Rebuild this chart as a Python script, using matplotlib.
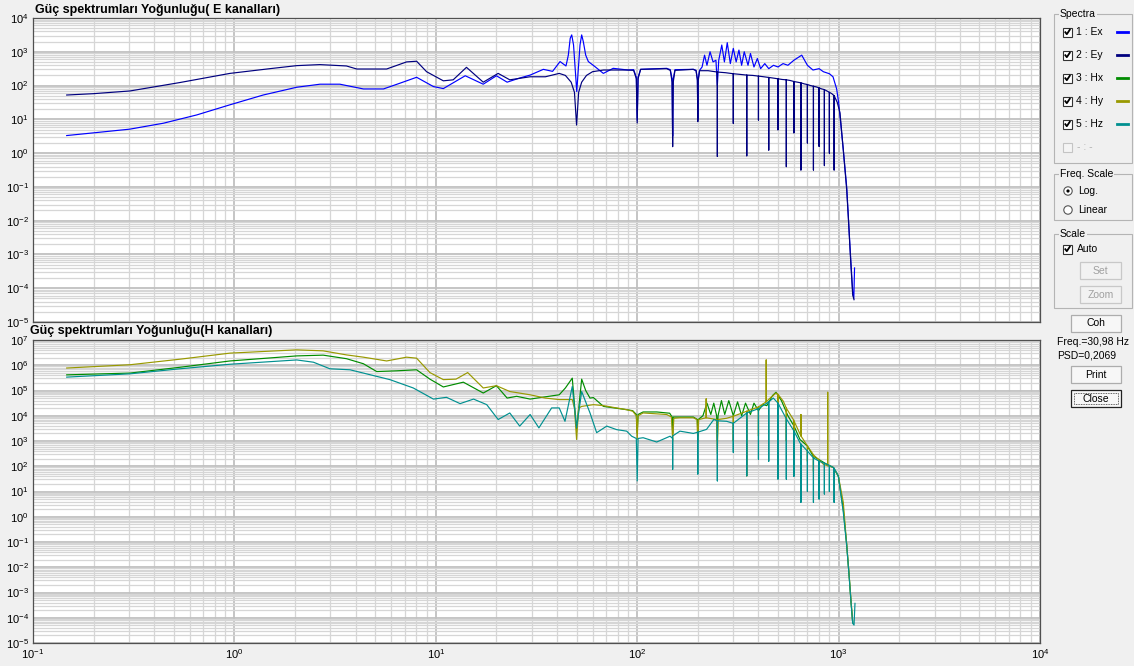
import numpy as np
import matplotlib
matplotlib.use("Agg")
import matplotlib.pyplot as plt
from matplotlib.patches import Rectangle, Circle
from matplotlib.ticker import FixedLocator, LogLocator, NullFormatter

plt.rcParams['font.family'] = ['Liberation Sans', 'DejaVu Sans']
plt.rcParams['mathtext.fontset'] = 'custom'
plt.rcParams['mathtext.rm'] = 'Liberation Sans'
plt.rcParams['mathtext.it'] = 'Liberation Sans'

# (frequency Hz, log10 PSD)
# E channels
ex_pts = [(0.147, 0.52), (0.2, 0.60), (0.303, 0.71), (0.444, 0.885), (0.65, 1.13), (0.95, 1.43),
          (1.39, 1.72), (2.04, 1.95), (2.66, 2.04), (3.34, 2.04), (4.37, 1.90), (5.5, 1.90),
          (6.64, 2.07), (8.03, 2.245), (9.73, 1.97), (10.9, 1.91), (14.0, 2.29), (17.2, 2.04),
          (20.0, 2.29), (22.6, 2.10), (26, 2.22), (29.4, 2.31), (34.2, 2.48), (38, 2.42),
          (41.4, 2.71), (44.3, 2.58), (45.5, 2.9), (46.5, 3.4), (47.3, 3.5), (48.3, 3.2),
          (50.1, 1.82), (52, 3.2), (53, 3.5), (54, 3.3), (55.5, 2.9), (57.2, 2.71), (61.7, 2.56),
          (67.9, 2.36), (76, 2.51), (90, 2.46),
          (96, 2.47), (99, 2.25), (100, 0.98), (101, 2.25), (104, 2.48),
          (140, 2.51), (146, 2.47), (149, 2.2), (150, 0.5), (151, 2.2), (154, 2.47),
          (190, 2.48), (196, 2.45), (199, 2.2), (200, 1.0), (201, 2.2), (204, 2.45),
          (210, 2.55), (216, 2.9), (222, 2.6), (230, 3.0), (238, 2.7), (246, 2.75), (250, 2.0),
          (254, 2.75), (263, 3.2), (271, 2.7), (280, 3.27), (290, 2.65), (300, 3.1), (310, 2.7),
          (320, 3.05), (330, 2.6), (340, 3.0), (355, 2.6), (365, 2.95), (380, 2.55), (395, 2.8),
          (410, 2.5), (430, 2.65), (450, 2.5), (475, 2.6), (500, 2.55), (530, 2.65), (560, 2.6),
          (600, 2.75), (656, 2.9), (700, 2.6), (746, 2.46), (800, 2.5), (840, 2.41), (900, 2.35),
          (938, 2.26), (978, 1.9), (1000, 1.5), (1016, 1.1), (1055, 0.1), (1097, -1.0),
          (1140, -2.8), (1175, -4.1), (1190, -4.3), (1200, -3.4)]

ey_pts = [(0.147, 1.72), (0.2, 1.76), (0.303, 1.84), (0.537, 2.09), (0.95, 2.36), (1.5, 2.50),
          (2.04, 2.59), (2.66, 2.62), (3.6, 2.58), (4.05, 2.49), (5.7, 2.49), (7.16, 2.70),
          (8.03, 2.72), (9.0, 2.41), (10.9, 2.14), (12.2, 2.17), (14.2, 2.54), (17.2, 2.10),
          (20.4, 2.36), (23.3, 2.17), (29.4, 2.26), (35, 2.26), (41, 2.36), (44, 2.3), (47, 2.1),
          (48.8, 1.8), (50, 0.83), (51.2, 1.8), (53, 2.1), (56, 2.3), (60, 2.41), (68, 2.46),
          (90, 2.46),
          (96, 2.45), (99, 2.20), (100, 0.89), (101, 2.20), (104, 2.48),
          (140, 2.50), (146, 2.45), (149, 2.10), (150, 0.19), (151, 2.10), (154, 2.45),
          (190, 2.48), (196, 2.44), (199, 2.15), (200, 0.93), (201, 2.15), (204, 2.44),
          (225, 2.44), (250, 2.40), (250, -0.10), (250, 2.40),
          (275, 2.38), (300, 2.35), (300, 0.88), (300, 2.35),
          (325, 2.33), (350, 2.31), (350, -0.08), (350, 2.31),
          (375, 2.30), (400, 2.28), (400, 0.98), (400, 2.28),
          (425, 2.26), (450, 2.24), (450, 0.09), (450, 2.24),
          (475, 2.22), (500, 2.20), (500, 0.69), (500, 2.20),
          (525, 2.18), (550, 2.17), (550, -0.40), (550, 2.17),
          (575, 2.15), (600, 2.12), (600, 0.60), (600, 2.12),
          (625, 2.10), (650, 2.08), (650, -0.50), (650, 2.08),
          (675, 2.05), (700, 2.03), (700, 0.30), (700, 2.03),
          (725, 2.00), (750, 1.98), (750, -0.50), (750, 1.98),
          (775, 1.96), (800, 1.93), (800, 0.20), (800, 1.93),
          (825, 1.90), (850, 1.88), (850, -0.37), (850, 1.88),
          (875, 1.84), (900, 1.80), (900, 0.00), (900, 1.80),
          (925, 1.76), (950, 1.70), (950, -0.50), (950, 1.70),
          (985, 1.50), (1016, 1.19), (1055, 0.10), (1097, -1.09), (1117, -1.88),
          (1140, -2.86), (1152, -3.36), (1175, -4.20), (1193, -4.34)]

# H channels
hx_pts = [(0.147, 5.62), (0.303, 5.69), (0.537, 5.92), (0.95, 6.17), (2.04, 6.37), (2.76, 6.40),
          (3.6, 6.26), (4.37, 6.06), (5.09, 5.75), (6.4, 5.78), (8.03, 5.82), (9.35, 5.45),
          (10.9, 5.14), (13.7, 5.33), (17.2, 4.90), (20, 5.19), (22.6, 4.70), (25.2, 4.77),
          (29.4, 4.66), (35, 4.75), (41, 4.83), (44, 5.1), (47.6, 5.49), (50, 3.46), (53, 5.45),
          (55.5, 5.0), (58.3, 4.70), (60.6, 4.72), (68, 4.37), (88.7, 4.24), (95, 4.20),
          (99, 4.05), (100, 3.3), (101, 4.05), (107, 4.15), (125, 4.15), (145, 4.10),
          (149, 3.95), (150, 3.3), (151, 3.95), (163, 3.95), (190, 3.95), (199, 3.85), (200, 3.2),
          (201, 3.85), (212, 4.0), (222, 4.5), (232, 4.05), (240, 4.5), (248, 4.0), (250, 3.0),
          (252, 4.0), (262, 4.6), (272, 4.05), (285, 4.6), (300, 4.0), (315, 4.55), (330, 4.0),
          (345, 4.5), (365, 4.05), (380, 4.5), (400, 4.2), (420, 4.45), (440, 4.4), (470, 4.8),
          (489, 4.93), (520, 4.6), (560, 4.0), (600, 3.6), (643, 3.06), (700, 2.8), (748, 2.4),
          (873, 2.08), (942, 1.95), (997, 1.6), (1055, 0.3), (1097, -1.1), (1130, -2.4),
          (1152, -3.35), (1175, -4.2)]

hy_pts = [(0.147, 5.89), (0.303, 6.02), (0.537, 6.24), (0.95, 6.48), (2.04, 6.61), (2.76, 6.57),
          (3.6, 6.41), (4.37, 6.32), (5.7, 6.17), (7.16, 6.32), (8.03, 6.28), (9.35, 5.71),
          (10.9, 5.43), (12.6, 5.45), (14.4, 5.71), (17.2, 5.10), (20, 5.19), (23.3, 4.96),
          (29.4, 4.83), (35, 4.70), (41, 4.64), (47.6, 4.64), (48.8, 4.3), (50, 3.06), (51.2, 4.3),
          (53, 4.37), (60.6, 4.44), (68, 4.40), (88.7, 4.24), (95, 4.18), (99, 4.0), (100, 3.06),
          (101, 4.0), (107, 4.11), (140, 4.05), (148, 3.95), (150, 2.99), (152, 3.9), (163, 3.92),
          (190, 3.92), (198, 3.85), (200, 2.95), (202, 3.85), (220, 3.92), (220, 4.67), (220, 3.92),
          (248, 3.85), (250, 2.5), (252, 3.85), (278, 3.90), (300, 3.98), (300, 3.0), (300, 3.98),
          (350, 4.18), (350, 1.62), (350, 4.18), (400, 4.35), (400, 3.2), (400, 4.35),
          (437, 4.55), (437, 6.21), (437, 4.55), (457, 4.70), (489, 4.90), (500, 4.85), (500, 3.3),
          (500, 4.85), (532, 4.57), (550, 4.3), (550, 3.0), (550, 4.3), (596, 3.85), (600, 3.8),
          (600, 2.8), (600, 3.8), (650, 3.2), (650, 4.05), (650, 3.2), (668, 3.06), (700, 2.8),
          (700, 2.2), (700, 2.8), (748, 2.47), (750, 2.45), (750, 1.8), (750, 2.45), (800, 2.25),
          (840, 2.08), (883, 2.02), (883, 4.93), (883, 2.02), (942, 1.95), (997, 1.62),
          (1055, 0.57), (1097, -1.1), (1130, -2.4), (1152, -3.3), (1175, -4.15)]

hz_pts = [(0.147, 5.53), (0.303, 5.66), (0.537, 5.86), (0.95, 6.04), (2.04, 6.21), (2.47, 6.12),
          (2.98, 5.86), (3.75, 5.82), (4.37, 5.69), (5.92, 5.43), (7.73, 5.10), (9.73, 4.66),
          (11.3, 4.73), (13.2, 4.48), (15.4, 4.66), (17.9, 4.44), (20.4, 3.85), (23.3, 4.11),
          (26.1, 3.59), (29.4, 4.05), (32.5, 3.52), (37.6, 4.31), (41, 4.31), (43.8, 3.78),
          (47.6, 5.16), (50, 3.52), (53, 4.96), (58.3, 4.11), (62.9, 3.33), (70.6, 3.59),
          (79.1, 3.45), (88.7, 3.39), (93.9, 3.19), (99, 3.1), (100, 1.42), (101, 3.1),
          (107, 3.13), (125, 2.96), (145.6, 3.19), (150, 3.1), (150, 1.88), (150, 3.2),
          (163, 3.39), (190, 3.3), (200, 3.35), (200, 1.69), (200, 3.35), (221, 3.46),
          (240, 3.85), (250, 3.8), (250, 1.42), (250, 3.8), (278, 3.78), (300, 3.7), (300, 2.55),
          (300, 3.7), (350, 4.11), (350, 1.62), (350, 4.11), (400, 4.28), (400, 2.28), (400, 4.28),
          (450, 4.55), (450, 2.2), (450, 4.55), (474, 4.70), (500, 4.5), (500, 1.49), (500, 4.5),
          (550, 3.88), (550, 1.49), (550, 3.88), (600, 3.4), (600, 1.6), (600, 3.4), (643, 2.93),
          (650, 2.88), (650, 0.57), (650, 2.88), (700, 2.6), (700, 1.0), (700, 2.6), (748, 2.34),
          (750, 2.33), (750, 0.57), (750, 2.33), (800, 2.2), (800, 0.7), (800, 2.2), (850, 2.12),
          (850, 0.9), (850, 2.12), (873, 2.08), (900, 2.03), (900, 1.0), (900, 2.03), (942, 1.95),
          (950, 1.92), (950, 0.57), (950, 1.92), (997, 1.62), (1055, 0.18), (1097, -1.14),
          (1130, -2.45), (1152, -3.37), (1175, -4.22), (1193, -4.29), (1206, -3.43)]

spectra_labels = ["1 : Ex", "2 : Ey", "3 : Hx", "4 : Hy", "5 : Hz"]
spectra_colors = ["#0000ff", "#00007f", "#008c00", "#999900", "#009090"]

title_e = "Güç spektrumları Yoğunluğu( E kanalları)"
title_h = "Güç spektrumları Yoğunluğu(H kanalları)"

W, H = 1134, 666
fig = plt.figure(figsize=(W / 100, H / 100), dpi=100, facecolor="#f0f0f0")


def px_axes(x0, y0, x1, y1):
    return fig.add_axes([x0 / W, 1 - y1 / H, (x1 - x0) / W, (y1 - y0) / H])


def setup(ax, lo, hi, show_x):
    ax.set_xscale("log")
    ax.set_yscale("log")
    ax.set_xlim(0.1, 1e4)
    ax.set_ylim(10.0 ** lo, 10.0 ** hi)
    ax.set_facecolor("white")
    ax.yaxis.set_major_locator(FixedLocator([10.0 ** k for k in range(lo, hi + 1)]))
    ax.yaxis.set_minor_locator(LogLocator(base=10, subs=np.arange(2, 10), numticks=60))
    ax.yaxis.set_minor_formatter(NullFormatter())
    ax.xaxis.set_major_locator(FixedLocator([10.0 ** k for k in range(-1, 5)]))
    ax.xaxis.set_minor_locator(LogLocator(base=10, subs=np.arange(2, 10), numticks=60))
    ax.xaxis.set_minor_formatter(NullFormatter())
    ax.grid(which="major", color="#c0c0c0", lw=1.3)
    ax.grid(which="minor", color="#d6d6d6", lw=0.9)
    ax.set_axisbelow(True)
    ax.tick_params(which="both", length=0, labelsize=8, pad=3)
    if not show_x:
        ax.tick_params(axis="x", labelbottom=False)
    for s in ax.spines.values():
        s.set_color("#505050")
        s.set_linewidth(0.9)


def draw(ax, pts, color):
    f, lg = np.array(pts).T
    ax.plot(f, 10.0 ** lg, color=color, lw=0.85)


ax_e = px_axes(33, 18, 1040, 322)
setup(ax_e, -5, 4, False)
draw(ax_e, ex_pts, spectra_colors[0])
draw(ax_e, ey_pts, spectra_colors[1])

ax_h = px_axes(33, 340, 1040, 643)
setup(ax_h, -5, 7, True)
draw(ax_h, hx_pts, spectra_colors[2])
draw(ax_h, hy_pts, spectra_colors[3])
draw(ax_h, hz_pts, spectra_colors[4])

# overlay in pixel coordinates for titles and the control panel
ui = fig.add_axes([0, 0, 1, 1])
ui.set_xlim(0, W)
ui.set_ylim(H, 0)
ui.axis("off")
ui.patch.set_alpha(0)

ui.text(35, 10, title_e, family="Liberation Sans", fontweight="bold", fontsize=9, va="center")
ui.text(30, 331, title_h, family="Liberation Sans", fontweight="bold", fontsize=9, va="center")

fs = 7.5


def groupbox(x0, y0, x1, y1, title):
    ui.add_patch(Rectangle((x0, y0), x1 - x0, y1 - y0, fill=False, ec="#b4b4b4", lw=0.8))
    ui.text(x0 + 6, y0, title, fontsize=fs, va="center", ha="left",
            bbox=dict(fc="#f0f0f0", ec="none", pad=0.6))


def checkbox(x, y, checked, enabled=True):
    ec = "#333333" if enabled else "#c4c4c4"
    ui.add_patch(Rectangle((x, y - 4.5), 9, 9, fc="white" if enabled else "#f4f4f4", ec=ec, lw=0.8))
    if checked:
        ui.plot([x + 1.8, x + 3.8, x + 7.3], [y - 0.5, y + 2.2, y - 3], color="black", lw=1.3,
                solid_capstyle="butt")


def radio(x, y, on):
    ui.add_patch(Circle((x, y), 4.2, fc="white", ec="#555555", lw=0.8))
    if on:
        ui.add_patch(Circle((x, y), 1.6, fc="black", ec="none"))


def button(x0, y0, x1, y1, label, enabled=True, focus=False):
    ec = "#222222" if focus else ("#adadad" if enabled else "#c8c8c8")
    fc = "#f7f7f7" if enabled else "#f2f2f2"
    ui.add_patch(Rectangle((x0, y0), x1 - x0, y1 - y0, fc=fc, ec=ec, lw=0.9))
    if focus:
        ui.add_patch(Rectangle((x0 + 3, y0 + 3), x1 - x0 - 6, y1 - y0 - 6, fill=False,
                               ec="#333333", lw=0.6, ls=(0, (1, 1))))
    ui.text((x0 + x1) / 2, (y0 + y1) / 2, label, fontsize=fs, ha="center", va="center",
            color="black" if enabled else "#a0a0a0")


groupbox(1054, 14, 1132, 163, "Spectra")
rows = [32, 55, 78, 101, 124]
for lab, col, y in zip(spectra_labels, spectra_colors, rows):
    checkbox(1063, y, True)
    ui.text(1076, y, lab, fontsize=fs, va="center")
    ui.plot([1117, 1128], [y, y], color=col, lw=2)
checkbox(1063, 147, False, enabled=False)
ui.text(1077, 147, "- : -", fontsize=fs, va="center", color="#b0b0b0")

groupbox(1054, 174, 1132, 220, "Freq. Scale")
radio(1068, 191, True)
ui.text(1078, 191, "Log.", fontsize=fs, va="center")
radio(1068, 210, False)
ui.text(1078, 210, "Linear", fontsize=fs, va="center")

groupbox(1054, 234, 1132, 308, "Scale")
checkbox(1063, 249, True)
ui.text(1077, 249, "Auto", fontsize=fs, va="center")
button(1080, 262, 1121, 279, "Set", enabled=False)
button(1080, 286, 1121, 303, "Zoom", enabled=False)

button(1071, 315, 1121, 332, "Coh")
ui.text(1057, 342, "Freq.=30,98 Hz", fontsize=fs, va="center")
ui.text(1057, 355, "PSD=0,2069", fontsize=fs, va="center")
button(1071, 366, 1121, 383, "Print")
button(1071, 390, 1121, 407, "Close", focus=True)

fig.savefig("out.png", dpi=100, facecolor=fig.get_facecolor())
